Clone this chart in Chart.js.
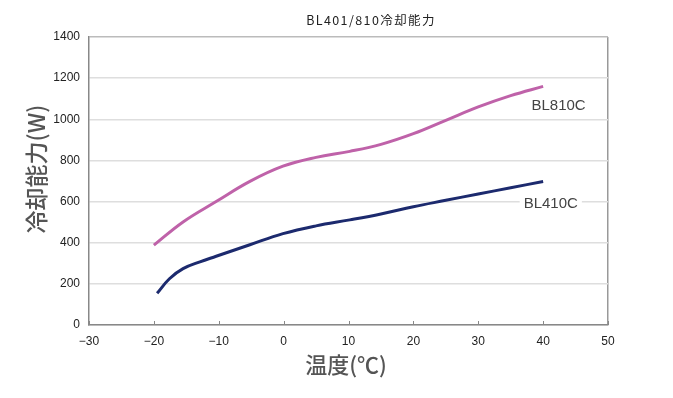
<!DOCTYPE html>
<html><head><meta charset="utf-8">
<script src="https://cdn.jsdelivr.net/npm/chart.js@4/dist/chart.umd.min.js"></script>
<style>html,body{margin:0;padding:0;background:#fff}#wrap{width:673px;height:398px}</style>
</head><body><div id="wrap"><canvas id="c" width="673" height="398"></canvas></div>
<script>
const chartTitle = 'BL401/810冷却能力';
const yTitle = '冷却能力(W)';
const xTitle = '温度(℃)';
const seriesNames = ['BL810C', 'BL410C'];
const temps810 = [-20, -15.5, -10.4, -5.2, -0.1, 5, 10.2, 15, 20, 25, 30, 35, 40];
const watts810 = [388, 501, 600, 698, 772, 815, 844, 878, 930, 995, 1060, 1115, 1160];
const temps410 = [-19.5, -17.6, -15.5, -12.9, -10.4, -5.2, -0.1, 5, 10.2, 15, 20, 25, 30, 35, 40];
const watts410 = [154, 225, 274, 307, 334, 390, 444, 482, 511, 540, 575, 606, 637, 667, 698];
const labelAnchors = [[38.2, 1063], [37.0, 588]];
const xTicks = [-30, -20, -10, 0, 10, 20, 30, 40, 50];
const yTicks = [0, 200, 400, 600, 800, 1000, 1200, 1400];

const pts = (xs, ys) => xs.map((x, i) => ({x, y: ys[i]}));

const deco = {
  id: 'deco',
  afterDraw(chart) {
    const ctx = chart.ctx, xs = chart.scales.x, ys = chart.scales.y, a = chart.chartArea;
    ctx.save();
    ctx.strokeStyle = '#888'; ctx.lineWidth = 1;
    xTicks.forEach(v => {
      const px = Math.round(xs.getPixelForValue(v)) + 0.5;
      ctx.beginPath(); ctx.moveTo(px, a.bottom); ctx.lineTo(px, a.bottom - 4); ctx.stroke();
    });
    ctx.font = '15px "Liberation Sans", Arial, sans-serif';
    ctx.textBaseline = 'middle'; ctx.textAlign = 'left';
    labelAnchors.forEach((p, i) => {
      const px = xs.getPixelForValue(p[0]), py = ys.getPixelForValue(p[1]);
      const w = ctx.measureText(seriesNames[i]).width;
      ctx.fillStyle = '#fff'; ctx.fillRect(px - 4, py - 8, w + 8, 16);
      ctx.fillStyle = '#444'; ctx.fillText(seriesNames[i], px, py);
    });
    ctx.fillStyle = '#222';
    ctx.font = '12.5px "Noto Sans CJK JP", sans-serif';
    ctx.letterSpacing = '1.4px';
    ctx.textAlign = 'center';
    ctx.fillText(chartTitle, 371, 20);
    ctx.letterSpacing = '0px';
    ctx.fillStyle = '#555';
    ctx.font = '500 22px "Noto Sans CJK JP", sans-serif';
    ctx.fillText(xTitle, 346, 365);
    ctx.font = '500 23px "Noto Sans CJK JP", sans-serif';
    ctx.translate(36, 169);
    ctx.rotate(-Math.PI / 2);
    ctx.fillText(yTitle, 0, 0);
    ctx.restore();
  }
};

new Chart(document.getElementById('c'), {
  type: 'scatter',
  data: {
    datasets: [
      {label: seriesNames[0], data: pts(temps810, watts810), showLine: true, borderColor: '#BF62A9', borderWidth: 3, pointRadius: 0, tension: 0.4},
      {label: seriesNames[1], data: pts(temps410, watts410), showLine: true, borderColor: '#1C2A6E', borderWidth: 3, pointRadius: 0, tension: 0.4}
    ]
  },
  options: {
    responsive: false, animation: false, devicePixelRatio: 1,
    layout: {padding: {top: 37, right: 65, left: 0, bottom: 0}},
    plugins: {legend: {display: false}, tooltip: {enabled: false}, title: {display: false}},
    scales: {
      x: {
        type: 'linear', min: -30, max: 50,
        afterBuildTicks: s => { s.ticks = xTicks.map(v => ({value: v})); },
        afterFit: s => { s.height = 73; },
        grid: {drawTicks: false, color: c => c.tick && c.tick.value === 50 ? '#999' : 'rgba(0,0,0,0)', lineWidth: 1.5},
        border: {color: '#888', width: 1.5},
        ticks: {padding: 9, color: '#222', font: {size: 12, family: '"Liberation Sans", Arial, sans-serif'}, maxRotation: 0,
          callback: v => String(v).replace('-', '\u2212')}
      },
      y: {
        type: 'linear', min: 0, max: 1400,
        afterBuildTicks: s => { s.ticks = yTicks.map(v => ({value: v})); },
        afterFit: s => { s.width = 89; },
        grid: {drawTicks: false, color: c => c.tick && c.tick.value === 1400 ? '#bbb' : '#dedede', lineWidth: 1.5},
        border: {color: '#888', width: 1.5},
        ticks: {padding: 9, color: '#222', font: {size: 12, family: '"Liberation Sans", Arial, sans-serif'},
          callback: v => String(v)}
      }
    }
  },
  plugins: [deco]
});
</script></body></html>
